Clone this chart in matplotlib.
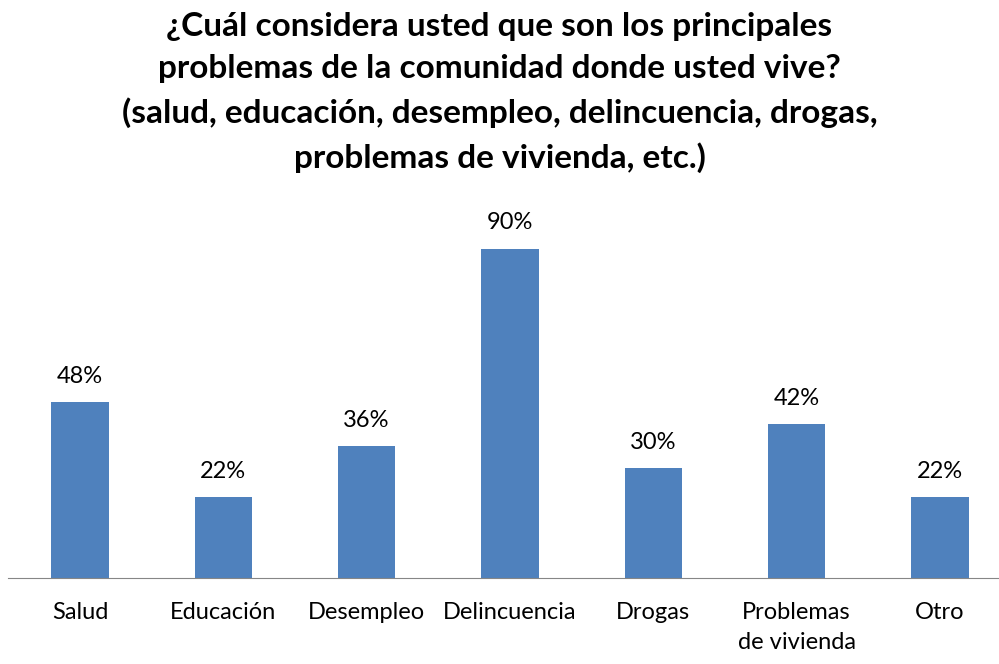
import matplotlib.pyplot as plt
import numpy as np

categorias = ["Salud", "Educación", "Desempleo", "Delincuencia", "Drogas",
              "Problemas\nde vivienda", "Otro"]
porcentajes = [48, 22, 36, 90, 30, 42, 22]
titulo = ("¿Cuál considera usted que son los principales\n"
          "problemas de la comunidad donde usted vive?\n"
          "(salud, educación, desempleo, delincuencia, drogas,\n"
          "problemas de vivienda, etc.)")

plt.rcParams["font.family"] = ["Lato", "DejaVu Sans"]

fig = plt.figure(figsize=(9.99, 6.64), dpi=100)
# eje: base en y=578 px, 100% en y=212 px
ax = fig.add_axes([8.3 / 999, (664 - 578) / 664, 1003.4 / 999, 366 / 664])

x = np.arange(len(categorias))
ax.bar(x, porcentajes, width=0.4, color="#4F81BD")
for xi, v in zip(x, porcentajes):
    ax.text(xi, v + 4.2, f"{v}%", ha="center", va="bottom", fontsize=17)

ax.set_xlim(-0.5, len(categorias) - 0.5)
ax.set_ylim(0, 100)
ax.set_yticks([])
ax.set_xticks(x)
ax.set_xticklabels(categorias, fontsize=17, linespacing=1.55)
ax.tick_params(axis="x", length=0, pad=17)
for s in ("top", "right", "left"):
    ax.spines[s].set_visible(False)
ax.spines["bottom"].set_color("#868686")

fig.text(0.5, 0.982, titulo, ha="center", va="top", fontsize=24,
         fontweight="bold", linespacing=1.55)

fig.savefig("out.png", dpi=100)
plt.close()
